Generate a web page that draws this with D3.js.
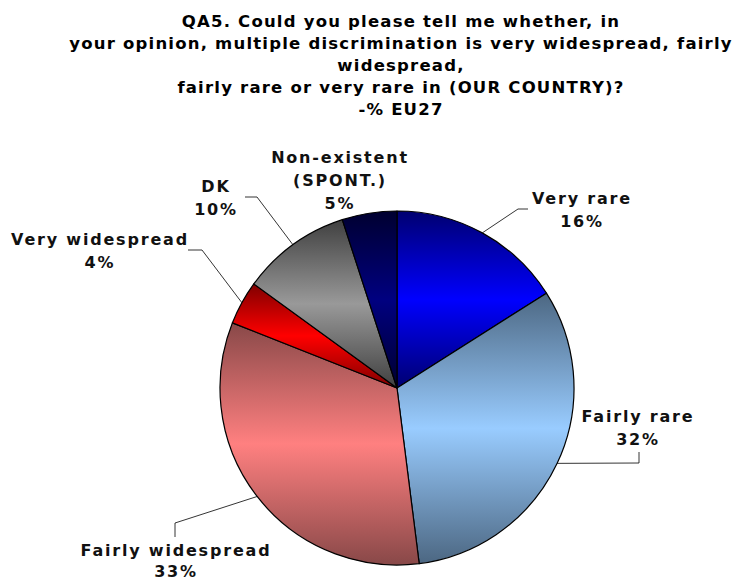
<!DOCTYPE html>
<html>
<head>
<meta charset="utf-8">
<script src="https://cdn.jsdelivr.net/npm/d3@7"></script>
<style>
  html, body { margin: 0; padding: 0; background: #ffffff; }
  svg { display: block; }
</style>
</head>
<body>
<svg id="chart" width="745" height="581"></svg>
<script>
// ---- data ----
const categories = ["Very rare", "Fairly rare", "Fairly widespread", "Very widespread", "DK", "Non-existent\n(SPONT.)"];
const values = [16, 32, 33, 4, 10, 5];
const titleLines = [
  "QA5. Could you please tell me whether, in",
  "your opinion, multiple discrimination is very widespread, fairly",
  "widespread,",
  "fairly rare or very rare in (OUR COUNTRY)?",
  "-% EU27"
];

// ---- styles / layout ----
const edgeColors = ["#000070", "#4c6782", "#884848", "#800000", "#404040", "#000030"];
const midColors  = ["#0000ff", "#99ccff", "#ff8080", "#ff0000", "#999999", "#000080"];
// label anchor (center x, first baseline, line step) and leader elbow/end points
const labelLayout = [
  { x: 582, y: 204, step: 23, leader: [[518, 209], [528, 209]] },
  { x: 638, y: 422, step: 23, leader: [[639, 463], [639, 452]] },
  { x: 176, y: 556, step: 21, leader: [[175, 523], [175, 537]] },
  { x: 100, y: 245, step: 23, leader: [[202, 250], [188, 250]] },
  { x: 216, y: 192, step: 23, leader: [[257, 197], [245, 197]] },
  { x: 340, y: 163, step: 23, leader: null }
];

const svg = d3.select("#chart");
const cx = 397, cy = 388, r = 177;
const fontFamily = "'DejaVu Sans', Verdana, sans-serif";

// title
svg.append("g")
  .selectAll("text")
  .data(titleLines)
  .join("text")
  .attr("x", 401)
  .attr("y", (d, i) => 27 + i * 22)
  .attr("text-anchor", "middle")
  .attr("font-family", fontFamily)
  .attr("font-weight", "bold")
  .attr("font-size", "16.5px")
  .attr("letter-spacing", "1.2px")
  .attr("fill", "#000")
  .text(d => d);

// gradients
const defs = svg.append("defs");
values.forEach((v, i) => {
  const g = defs.append("linearGradient")
    .attr("id", "grad" + i)
    .attr("x1", 0).attr("y1", 0).attr("x2", 0).attr("y2", 1);
  g.append("stop").attr("offset", "0%").attr("stop-color", edgeColors[i]);
  g.append("stop").attr("offset", "50%").attr("stop-color", midColors[i]);
  g.append("stop").attr("offset", "100%").attr("stop-color", edgeColors[i]);
});

const pie = d3.pie().sort(null).value(d => d)(values);
const arc = d3.arc().innerRadius(0).outerRadius(r);

const gPie = svg.append("g").attr("transform", `translate(${cx},${cy})`);
gPie.selectAll("path")
  .data(pie)
  .join("path")
  .attr("d", arc)
  .attr("fill", (d, i) => `url(#grad${i})`)
  .attr("stroke", "#000")
  .attr("stroke-width", 1.2)
  .attr("stroke-linejoin", "round");

// leader lines
pie.forEach((d, i) => {
  const L = labelLayout[i];
  if (!L.leader) return;
  const a = (d.startAngle + d.endAngle) / 2;
  const p0 = [cx + r * Math.sin(a), cy - r * Math.cos(a)];
  const pts = [p0].concat(L.leader);
  svg.append("path")
    .attr("d", d3.line()(pts))
    .attr("fill", "none")
    .attr("stroke", "#000")
    .attr("stroke-width", 0.8);
});

// labels
pie.forEach((d, i) => {
  const L = labelLayout[i];
  const lines = categories[i].split("\n").concat([values[i] + "%"]);
  const t = svg.append("text")
    .attr("text-anchor", "middle")
    .attr("font-family", fontFamily)
    .attr("font-weight", "bold")
    .attr("font-size", "16px")
    .attr("letter-spacing", "1.8px")
    .attr("fill", "#111");
  lines.forEach((ln, k) => {
    t.append("tspan")
      .attr("x", L.x)
      .attr("y", L.y + k * L.step)
      .text(ln);
  });
});
</script>
</body>
</html>
